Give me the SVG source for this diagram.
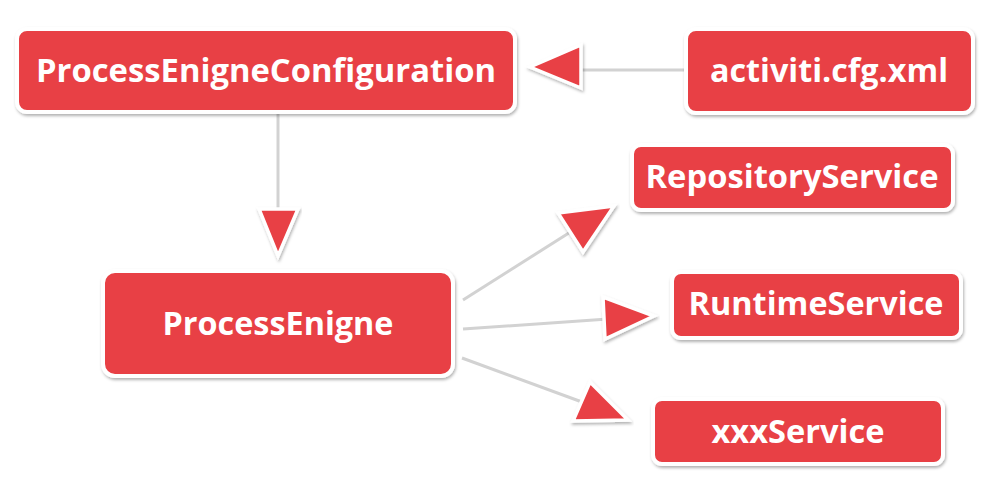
<svg xmlns="http://www.w3.org/2000/svg" width="1003" height="479" viewBox="0 0 1003 479">
  <defs>
    <filter id="shadow" x="-10%" y="-20%" width="120%" height="150%">
      <feDropShadow dx="1" dy="2" stdDeviation="1.6" flood-color="#000" flood-opacity="0.3"/>
    </filter>
    <style>
      .box { fill: #e84145; stroke: #ffffff; stroke-width: 4; filter: url(#shadow); }
      .label { fill: #ffffff; font-family: "Open Sans", "Noto Sans", "Liberation Sans", sans-serif; font-weight: 700; font-size: 33px; text-anchor: middle; }
      .wire { stroke: #d2d2d2; stroke-width: 3; fill: none; stroke-linecap: butt; }
      .head { fill: #e84145; stroke: #ffffff; stroke-width: 3.5; stroke-linejoin: miter; filter: url(#shadow); }
    </style>
  </defs>
  <rect width="1003" height="479" fill="#ffffff"/>

  <!-- connectors -->
  <g id="connectors">
    <!-- activiti.cfg.xml -> ProcessEnigneConfiguration -->
    <line class="wire" x1="686" y1="70" x2="578" y2="70"/>
    <polygon class="head" points="530,67 581,45 581,88"/>
    <!-- ProcessEnigneConfiguration -> ProcessEnigne -->
    <line class="wire" x1="278" y1="114" x2="278" y2="212"/>
    <polygon class="head" points="259,209 298,209 278,256"/>
    <!-- ProcessEnigne -> RepositoryService -->
    <line class="wire" x1="463" y1="300" x2="572" y2="231"/>
    <polygon class="head" points="558,213 614,206 583,252"/>
    <!-- ProcessEnigne -> RuntimeService -->
    <line class="wire" x1="463" y1="329" x2="608" y2="319"/>
    <polygon class="head" points="603,297 654,316 605,339"/>
    <!-- ProcessEnigne -> xxxService -->
    <line class="wire" x1="462" y1="358" x2="582" y2="402"/>
    <polygon class="head" points="590,382 628,420 573,421"/>
  </g>

  <g id="node-config">
    <rect class="box" x="17" y="29" width="498" height="83" rx="10"/>
    <text class="label" x="266" y="82" textLength="460" lengthAdjust="spacingAndGlyphs">ProcessEnigneConfiguration</text>
  </g>

  <g id="node-cfg-xml">
    <rect class="box" x="686" y="29" width="287" height="84" rx="10"/>
    <text class="label" x="829" y="82" textLength="238" lengthAdjust="spacingAndGlyphs">activiti.cfg.xml</text>
  </g>

  <g id="node-engine">
    <rect class="box" x="103" y="271" width="350" height="105" rx="12"/>
    <text class="label" x="278" y="335" textLength="231" lengthAdjust="spacingAndGlyphs">ProcessEnigne</text>
  </g>

  <g id="node-repository">
    <rect class="box" x="632" y="145" width="321" height="65" rx="9"/>
    <text class="label" x="792" y="188" textLength="293" lengthAdjust="spacingAndGlyphs">RepositoryService</text>
  </g>

  <g id="node-runtime">
    <rect class="box" x="672" y="272" width="289" height="66" rx="9"/>
    <text class="label" x="816" y="315" textLength="255" lengthAdjust="spacingAndGlyphs">RuntimeService</text>
  </g>

  <g id="node-xxx">
    <rect class="box" x="653" y="399" width="290" height="65" rx="9"/>
    <text class="label" x="798" y="443" textLength="173" lengthAdjust="spacingAndGlyphs">xxxService</text>
  </g>
</svg>
